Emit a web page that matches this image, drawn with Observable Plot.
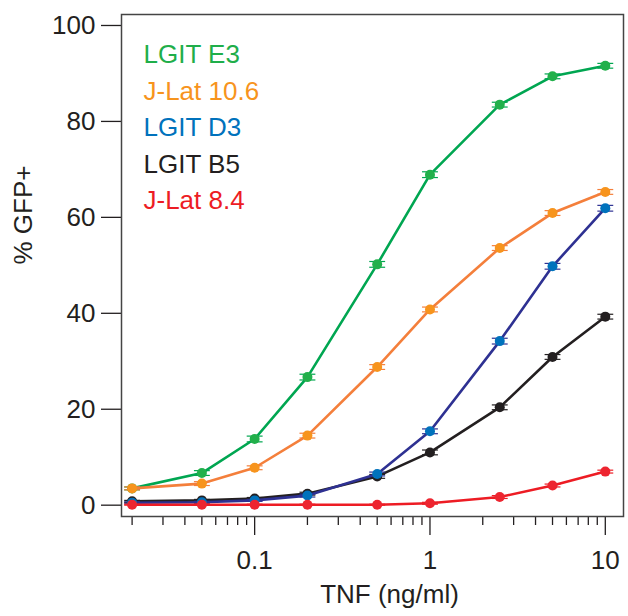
<!DOCTYPE html>
<html>
<head>
<meta charset="utf-8">
<script src="https://cdn.jsdelivr.net/npm/d3@7"></script>
<script src="https://cdn.jsdelivr.net/npm/@observablehq/plot@0.6"></script>
<style>
  html, body { margin: 0; padding: 0; background: #fff; }
  #chart svg { display: block; }
</style>
</head>
<body>
<div id="chart"></div>
<script>
// ---- data ----
const doses = [0.02, 0.05, 0.1, 0.2, 0.5, 1, 2.5, 5, 10];
const seriesNames = ["LGIT E3", "J-Lat 10.6", "LGIT D3", "LGIT B5", "J-Lat 8.4"];
const lgitE3  = [3.5, 6.7, 13.8, 26.7, 50.2, 68.9, 83.5, 89.4, 91.6];
const jlat106 = [3.5, 4.5, 7.8, 14.5, 28.8, 40.8, 53.6, 60.9, 65.3];
const lgitD3  = [0.5, 0.6, 1.0, 2.0, 6.5, 15.4, 34.2, 49.8, 61.9];
const lgitB5  = [0.8, 1.0, 1.4, 2.4, 6.0, 11.0, 20.4, 30.9, 39.3];
const jlat84  = [0.1, 0.1, 0.1, 0.1, 0.1, 0.4, 1.7, 4.1, 7.0];
const errE3   = [0.3, 0.5, 0.6, 0.6, 0.6, 0.6, 0.5, 0.5, 0.5];
const err106  = [0.3, 0.4, 0.4, 0.5, 0.5, 0.5, 0.5, 0.5, 0.5];
const errD3   = [0.2, 0.2, 0.2, 0.3, 0.4, 0.5, 0.6, 0.6, 0.6];
const errB5   = [0.2, 0.2, 0.2, 0.3, 0.4, 0.5, 0.5, 0.5, 0.5];
const err84   = [0.1, 0.1, 0.1, 0.1, 0.1, 0.2, 0.3, 0.3, 0.3];
const yTicks = [0, 20, 40, 60, 80, 100];
const xMajorTicks = [0.1, 1, 10];
const xMinorTicks = [0.02, 0.03, 0.04, 0.05, 0.06, 0.07, 0.08, 0.09,
                     0.2, 0.3, 0.4, 0.5, 0.6, 0.7, 0.8, 0.9,
                     2, 3, 4, 5, 6, 7, 8, 9];
const xLabel = "TNF (ng/ml)";
const yLabel = "% GFP+";

// ---- styles ----
const lineColors   = ["#00a651", "#f47f3b", "#2e3192", "#231f20", "#ed1c24"];
const dotColors    = ["#22b04b", "#f7941d", "#0072bc", "#231f20", "#ed2530"];
const legendColors = ["#1fae4a", "#f7941d", "#0072bc", "#231f20", "#ed1c24"];
const values = [lgitE3, jlat106, lgitD3, lgitB5, jlat84];
const errors = [errE3, err106, errD3, errB5, err84];
const drawOrder = [0, 1, 3, 2, 4];

const seriesRows = values.map((vals, s) =>
  doses.map((x, i) => ({series: seriesNames[s], x, y: vals[i], e: errors[s][i]}))
);

const marks = [];
for (const s of drawOrder) {
  const rows = seriesRows[s];
  marks.push(
    Plot.link(rows, {x1: d => d.x / 1.11, x2: d => d.x * 1.11, y1: d => d.y + d.e, y2: d => d.y + d.e,
                     stroke: lineColors[s], strokeWidth: 1.2}),
    Plot.link(rows, {x1: d => d.x / 1.11, x2: d => d.x * 1.11, y1: d => d.y - d.e, y2: d => d.y - d.e,
                     stroke: lineColors[s], strokeWidth: 1.2}),
    Plot.line(rows, {x: "x", y: "y", stroke: lineColors[s], strokeWidth: 2.6}),
    Plot.dot(rows, {x: "x", y: "y", r: 5, fill: dotColors[s], stroke: "none"})
  );
}

seriesNames.forEach((name, i) => {
  marks.push(Plot.text([name], {
    text: d => d, frameAnchor: "top-left", dx: 22, dy: 40.5 + i * 36.5,
    textAnchor: "start", lineAnchor: "middle", fill: legendColors[i], fontSize: 26
  }));
});

const chart = Plot.plot({
  width: 628,
  height: 616,
  marginLeft: 121,
  marginRight: 5,
  marginTop: 14,
  marginBottom: 100,
  style: {fontFamily: "'Liberation Sans', Arial, Helvetica, sans-serif", color: "#231f20", background: "#fff"},
  x: {type: "log", domain: [0.0174, 12.7]},
  y: {domain: [-2.36, 102.29]},
  marks: [
    Plot.axisY(yTicks, {tickSize: 20, tickPadding: 6, fontSize: 26, label: null, strokeWidth: 1.3}),
    Plot.axisX(xMinorTicks, {tickSize: 9, text: null, label: null, strokeWidth: 1.3}),
    Plot.axisX(xMajorTicks, {tickSize: 19, tickPadding: 15, fontSize: 26, label: null, strokeWidth: 1.3,
                             tickFormat: d => String(d)}),
    Plot.text([xLabel], {text: d => d, frameAnchor: "bottom", dx: 17, dy: 78, lineAnchor: "middle", fontSize: 26, fill: "#231f20"}),
    Plot.text([yLabel], {text: d => d, frameAnchor: "left", rotate: -90, dx: -97.5, dy: -1, lineAnchor: "middle", fontSize: 26, fill: "#231f20"}),
    ...marks,
    Plot.frame({stroke: "#444", strokeWidth: 1.5})
  ]
});
document.getElementById("chart").appendChild(chart);
</script>
</body>
</html>
